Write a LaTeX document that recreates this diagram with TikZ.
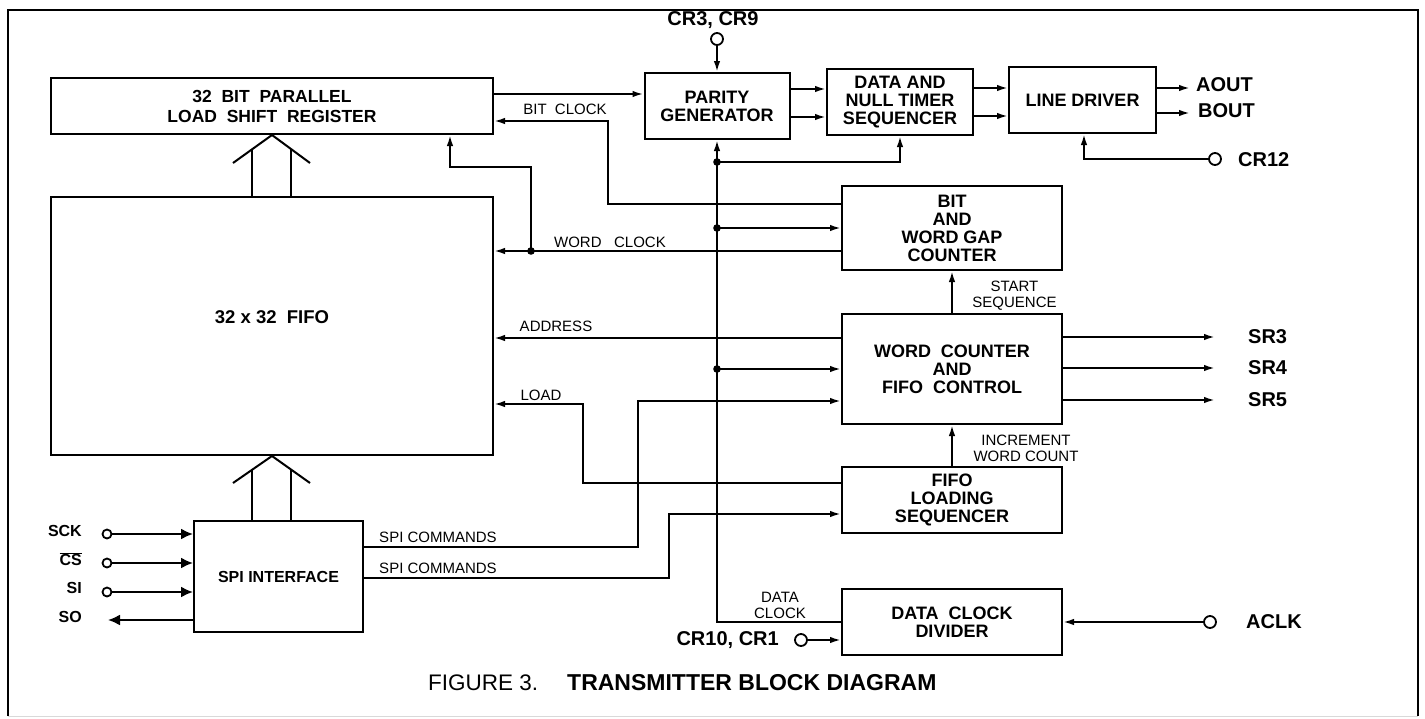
\documentclass[tikz,border=0pt]{standalone}
\usepackage{fontspec}
\setmainfont{Liberation Sans}
\usepackage{tikz}
\usetikzlibrary{arrows.meta}

\tikzset{
  block/.style={draw, line width=2pt, align=center, inner sep=0pt,
    font=\bfseries\fontsize{18}{18}\selectfont},
  wire/.style={line width=2pt},
  sig/.style={align=center, inner sep=0pt, font=\fontsize{15}{16}\selectfont},
  pin/.style={inner sep=0pt, font=\bfseries\fontsize{20}{20}\selectfont},
  pinsm/.style={inner sep=0pt, font=\bfseries\fontsize{16}{18}\selectfont},
  term/.style={circle, draw, line width=1.8pt, inner sep=0pt, minimum size=12pt},
  >={Latex[length=11pt,width=6.5pt]}
}

\begin{document}
\begin{tikzpicture}[x=1pt, y=-1pt]
  \useasboundingbox (0,0) rectangle (1425,718);

  % Draw the outer frame
  \draw[line width=2.6pt] (8,716) -- (8,10) -- (1418,10) -- (1418,716);
  \draw[line width=1pt, black!15] (8,716) -- (1418,716);

  % Draw the blocks
  \node[block, minimum width=442pt, minimum height=56pt,
    font=\bfseries\fontsize{17.5}{20}\selectfont] (shiftreg) at (272,106)
    {32~~BIT~~PARALLEL\\LOAD~~SHIFT~~REGISTER};
  \node[block, minimum width=442pt, minimum height=258pt,
    font=\bfseries\fontsize{18.5}{20}\selectfont] (fifo) at (272,326)
    {\raisebox{2.5pt}[0pt][0pt]{32 x 32~~FIFO}};
  \node[block, minimum width=169pt, minimum height=111pt,
    font=\bfseries\fontsize{16}{18}\selectfont] (spi) at (278.5,576.5) {SPI INTERFACE};
  \node[block, minimum width=145pt, minimum height=66pt] (parity) at (717,106) {PARITY\\GENERATOR};
  \node[block, minimum width=146pt, minimum height=66pt] (timer) at (900,102) {DATA AND\\NULL TIMER\\SEQUENCER};
  \node[block, minimum width=147pt, minimum height=66pt] (driver) at (1082.5,100) {LINE DRIVER};
  \node[block, minimum width=220pt, minimum height=84pt] (gapcnt) at (952,228) {BIT\\AND\\WORD GAP\\COUNTER};
  \node[block, minimum width=220pt, minimum height=110pt] (wordcnt) at (952,369) {WORD~~COUNTER\\AND\\FIFO~~CONTROL};
  \node[block, minimum width=220pt, minimum height=66pt] (loadseq) at (952,500) {FIFO\\LOADING\\SEQUENCER};
  \node[block, minimum width=220pt, minimum height=66pt] (clkdiv) at (952,622) {DATA~~CLOCK\\DIVIDER};

  % Draw the two bus arrows into the shift register and the FIFO
  \draw[wire] (233,163) -- (shiftreg.south) -- (310,163);
  \draw[wire] (252,149) -- (fifo.north -| 252,0);
  \draw[wire] (291,149) -- (fifo.north -| 291,0);
  \draw[wire] (233,483) -- (fifo.south) -- (310,483);
  \draw[wire] (252,469) -- (spi.north -| 252,0);
  \draw[wire] (291,469) -- (spi.north -| 291,0);

  % Data path along the top
  \draw[wire,->] (shiftreg.east |- 0,94) -- (parity.west |- 0,94);
  \foreach \y in {89,117}
    \draw[wire,->] (parity.east |- 0,\y) -- (timer.west |- 0,\y);
  \foreach \y in {88,116}
    \draw[wire,->] (timer.east |- 0,\y) -- (driver.west |- 0,\y);
  \node[pin, anchor=west] (aout) at (1196,85) {AOUT};
  \node[pin, anchor=west] (bout) at (1198,111) {BOUT};
  \draw[wire,->,shorten >=6pt] (driver.east |- 0,88) -- (aout.west |- 0,88);
  \draw[wire,->,shorten >=8pt] (driver.east |- 0,113) -- (bout.west |- 0,113);

  % Control inputs
  \node[term] (cr39) at (717,39) {};
  \node[pin, anchor=base] (cr39lab) at (713,25) {CR3, CR9};
  \draw[wire,->] (cr39.south) -- (parity.north);
  \node[term] (cr12) at (1215,159) {};
  \node[pin, anchor=west] (cr12lab) at (1238,160) {CR12};
  \draw[wire,->] (cr12.west) -| (driver.south -| 1084,0);

  % Clocks back to the registers
  \draw[wire,->] (gapcnt.west |- 0,204) -| (608,121) -- (shiftreg.east |- 0,121);
  \node[sig] (bitclk) at (565,109) {BIT~~CLOCK};
  \coordinate (wcj) at (531,251);
  \draw[wire,->] (gapcnt.west |- wcj) -- (fifo.east |- wcj);
  \fill (wcj) circle (3.8pt);
  \draw[wire,->] (wcj) |- (450,167) -- (shiftreg.south -| 450,0);
  \node[sig] (wordclk) at (610,242) {WORD~~~CLOCK};
  \draw[wire,->] (wordcnt.west |- 0,338) -- (fifo.east |- 0,338);
  \node[sig] (addr) at (556,326) {ADDRESS};
  \draw[wire,->] (loadseq.west |- 0,483) -| (583,404) -- (fifo.east |- 0,404);
  \node[sig] (load) at (541,395) {LOAD};

  % SPI commands
  \draw[wire,->] (spi.east |- 0,547) -| (638,401) -- (wordcnt.west |- 0,401);
  \draw[wire,->] (spi.east |- 0,578) -| (669,514) -- (loadseq.west |- 0,514);
  \node[sig] (cmd1) at (438,537) {SPI COMMANDS};
  \node[sig] (cmd2) at (438,568) {SPI COMMANDS};

  % Data clock bus with its branches
  \draw[wire,->] (clkdiv.west) -| (parity.south);
  \node[sig] (dclk) at (780,605) {DATA\\CLOCK};
  \foreach \y in {162,228,369}
    \fill (parity.south |- 0,\y) circle (3.8pt);
  \draw[wire,->] (parity.south |- 0,162) -| (timer.south);
  \draw[wire,->] (parity.south |- 0,228) -- (gapcnt.west);
  \draw[wire,->] (parity.south |- 0,369) -- (wordcnt.west);

  % Between the counters
  \draw[wire,->] (wordcnt.north) -- (gapcnt.south);
  \node[sig] (startseq) at (1014.5,296) {START\\SEQUENCE};
  \draw[wire,->] (loadseq.north) -- (wordcnt.south);
  \node[sig] (incr) at (1026,448) {INCREMENT\\WORD COUNT};

  % Status outputs
  \foreach \y/\name in {337/SR3, 368/SR4, 400/SR5} {
    \node[pin, anchor=west] (\name) at (1248,\y) {\name};
    \draw[wire,->,shorten >=33pt] (wordcnt.east |- \name.west) -- (\name.west);
  }

  % Clock divider inputs
  \node[term] (cr101) at (801,640) {};
  \node[pin, anchor=east] (cr101lab) at (779,640) {CR10, CR1};
  \draw[wire,->] (cr101.east) -- (clkdiv.west |- cr101);
  \node[term] (aclk) at (1210,622) {};
  \node[pin, anchor=west] (aclklab) at (1246,622) {ACLK};
  \draw[wire,->] (aclk.west) -- (clkdiv.east);

  % SPI pins
  \foreach \y/\name/\lab/\ly in {534/sck/SCK/531, 563/cs/$\overline{\mbox{CS}}$/559, 592/si/SI/588} {
    \node[term, minimum size=9pt] (\name) at (107,\y) {};
    \node[pinsm, anchor=east] (\name lab) at (82,\ly) {\lab};
    \draw[wire,-{Latex[length=12pt,width=11pt]}] (\name.east) -- (spi.west |- \name);
  }
  \node[pinsm, anchor=east] (solab) at (82,617) {SO};
  \coordinate (so) at (108,620);
  \draw[wire,-{Latex[length=12pt,width=11pt]}] (spi.west |- so) -- (so);

  % Caption
  \node[anchor=west, inner sep=0pt, font=\fontsize{22.5}{24}\selectfont] (figno) at (428,683) {FIGURE 3.};
  \node[anchor=west, inner sep=0pt, font=\bfseries\fontsize{23}{24}\selectfont] (title) at (567,683) {TRANSMITTER BLOCK DIAGRAM};
\end{tikzpicture}
\end{document}
